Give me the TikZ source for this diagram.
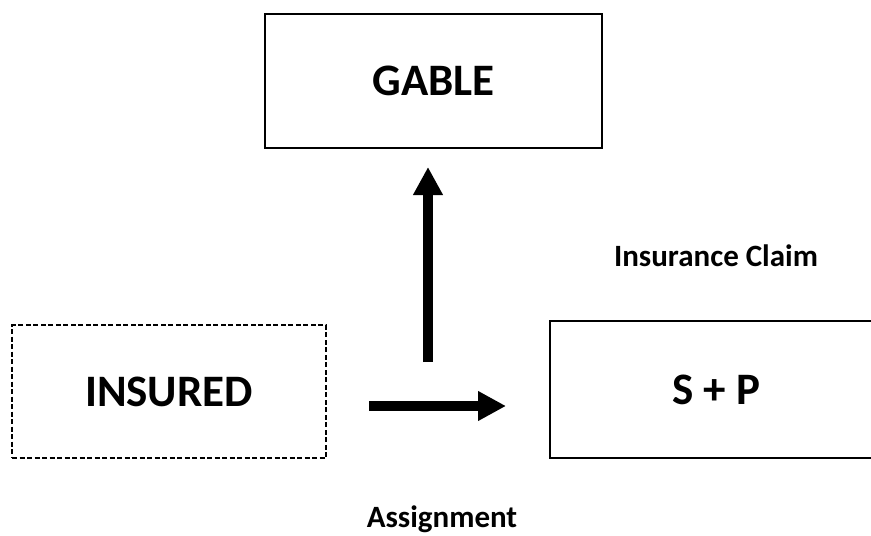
\documentclass[tikz,border=0pt]{standalone}
\usepackage{fontspec}
\setmainfont{Carlito}
\usetikzlibrary{arrows.meta}
\tikzset{party/.style={
    draw, line width=2.5pt, inner sep=0pt, font=\fontsize{45}{54}\selectfont\bfseries},
  flow/.style={
    line width=10pt, -{Triangle[length=28pt,width=28pt]}},
  flowlabel/.style={font=\fontsize{31}{37}\selectfont\bfseries}
}

\begin{document}
\begin{tikzpicture}[x=1pt, y=-1pt]
        \useasboundingbox (0,0) rectangle (871,536);
        %parties
        \node[party, minimum width=337pt, minimum height=134pt](gable) at (433.5,81){GABLE};
        \node[party, dashed, line width=2pt, dash pattern=on 5pt off 2.5pt, minimum width=314pt, minimum height=133pt](insured) at (169,391.5){INSURED};
        \node[party, minimum width=332pt, minimum height=137pt](sp) at (716,389.5){S + P}; % right edge runs off the page
        
        %arrow ends
        \coordinate (claim start) at (428,362);
        \coordinate (claim end) at (428,167);
        \coordinate (assign start) at (369,406);
        \coordinate (assign end) at (506,406);
        
        \draw[flow] (claim start) -- (claim end);
        \draw[flow] (assign start) -- (assign end);
        
        %labels
        \node[flowlabel](claim) at (716,256){Insurance Claim};
        \node[flowlabel](assignment) at (442,519){Assignment};
        
\end{tikzpicture}
\end{document}
